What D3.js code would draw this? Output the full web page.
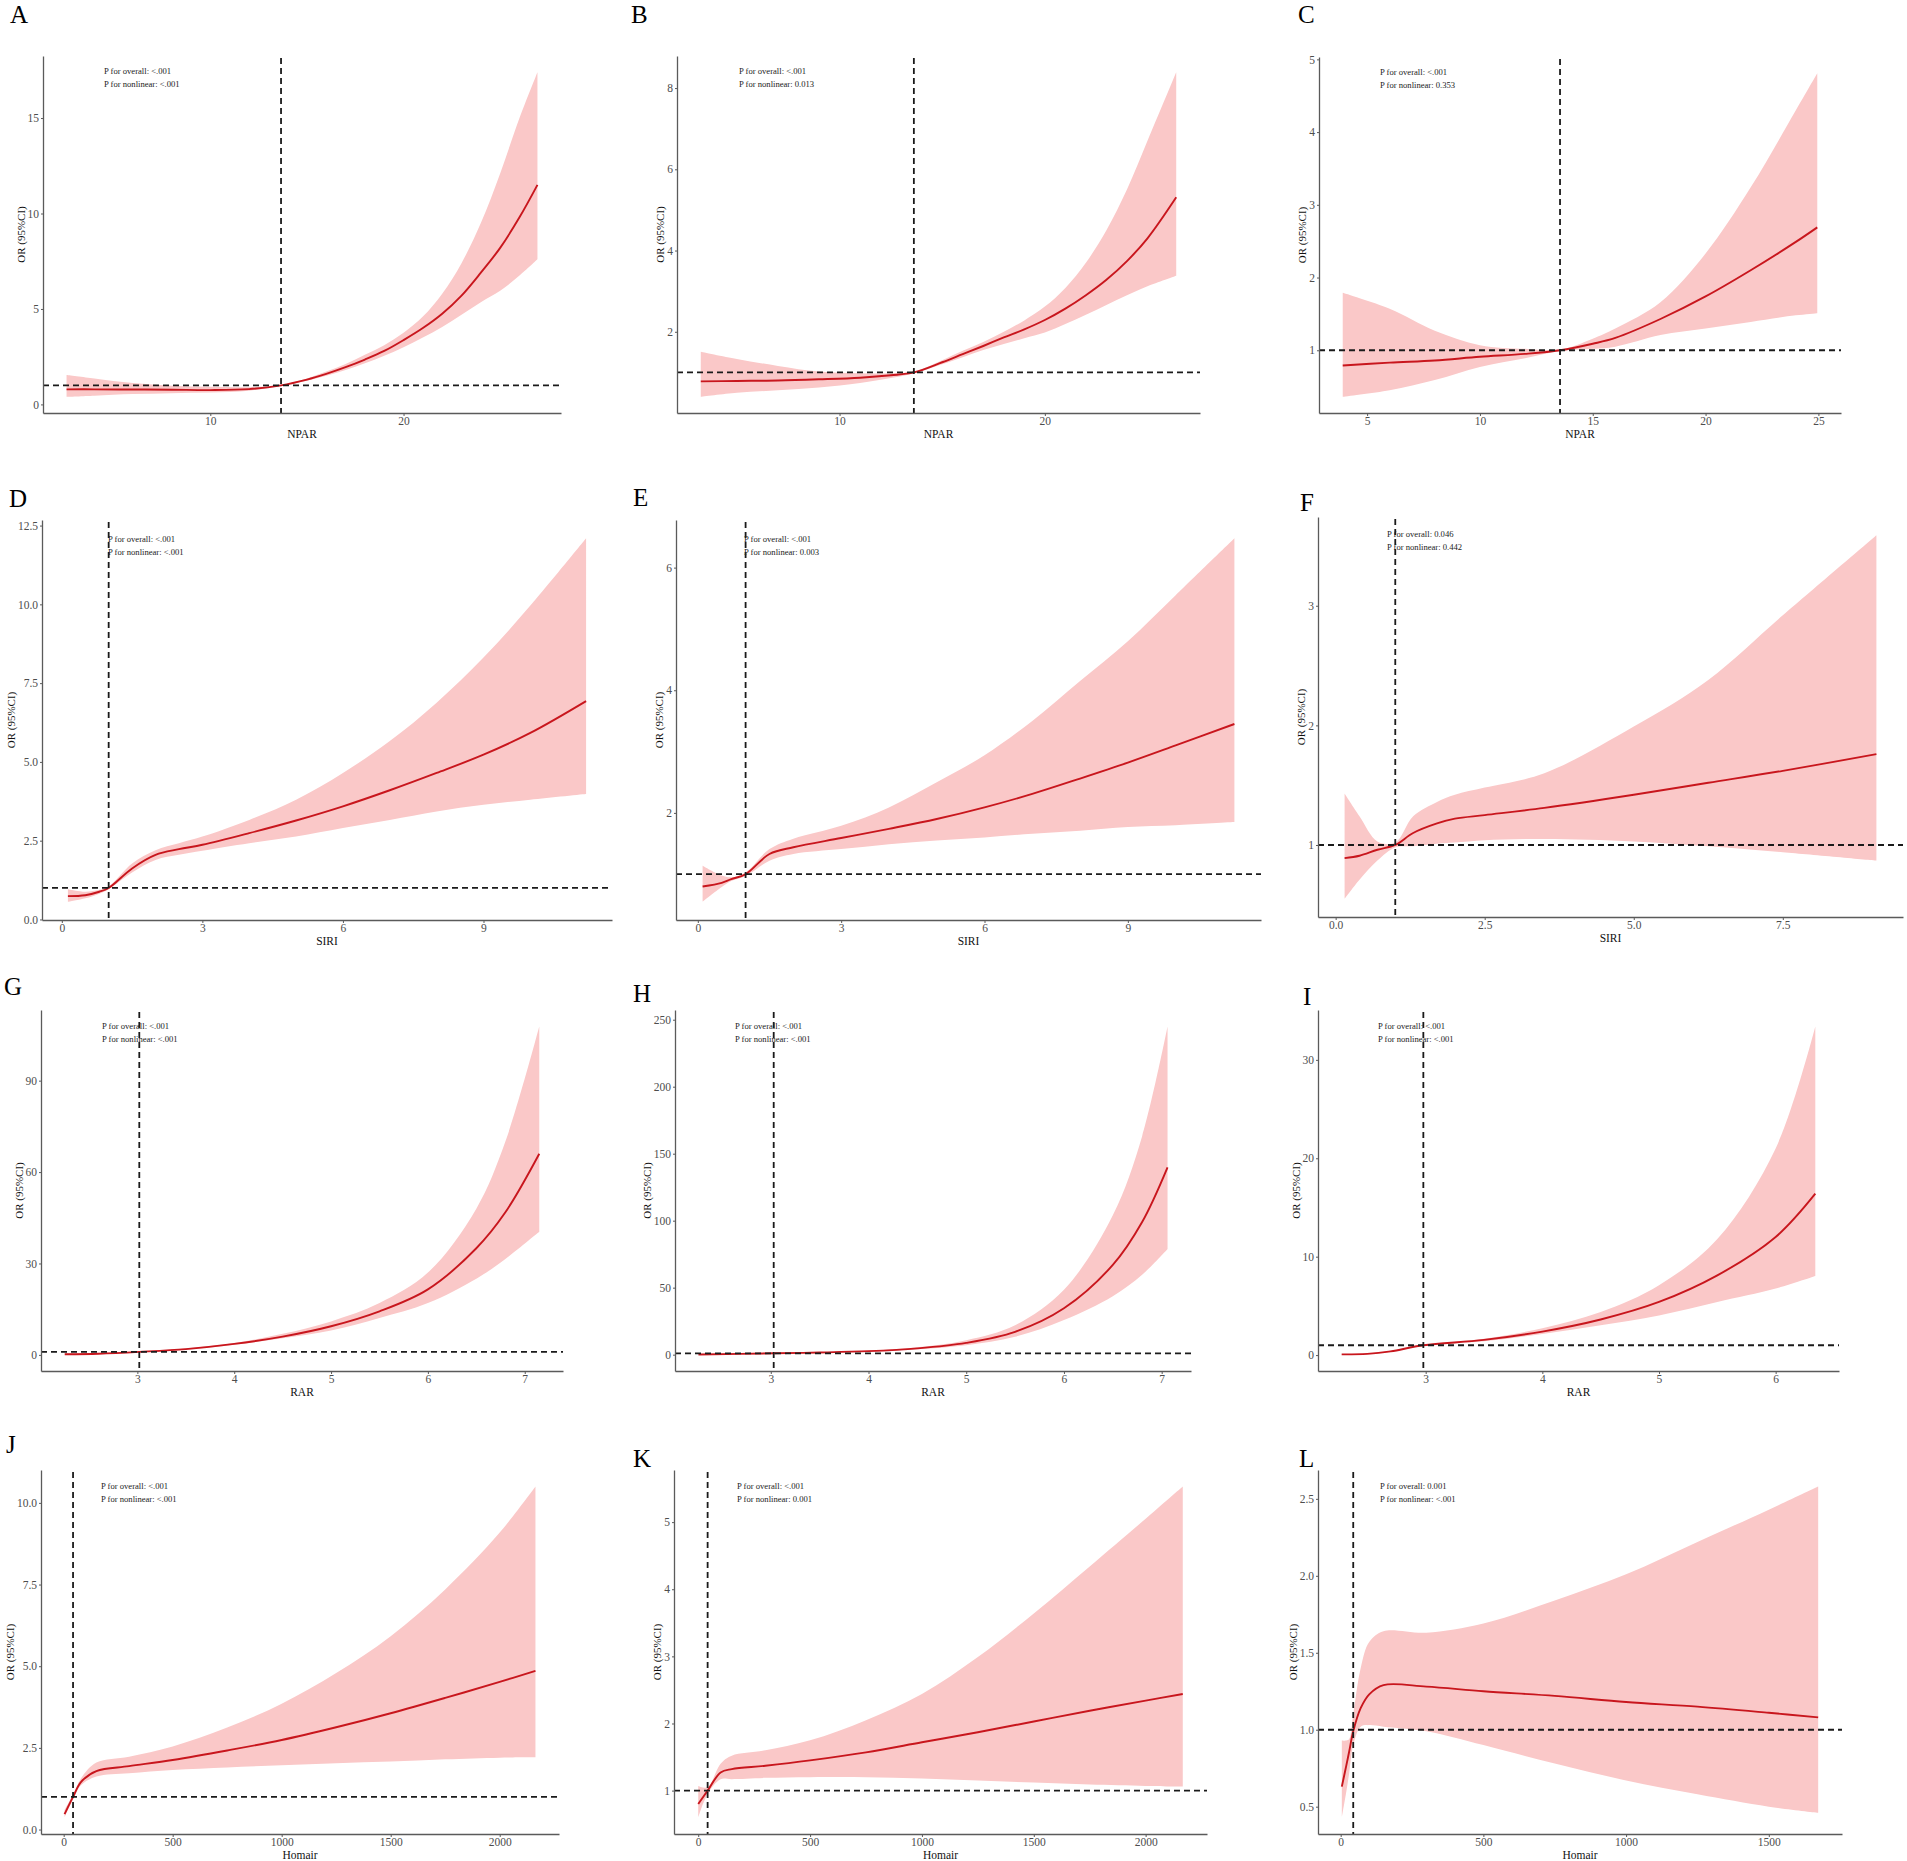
<!DOCTYPE html>
<html>
<head>
<meta charset="utf-8">
<script src="https://cdn.jsdelivr.net/npm/d3@7"></script>
<style>
  body { margin: 0; background: #fff; }
  svg { display: block; }
</style>
</head>
<body>
<div id="chart"></div>
<script>
// ---- data: x, OR estimate, lower and upper 95% CI ----

// A - NPAR
const xA  = [2.56, 4, 6, 8, 10, 12, 13.66, 15, 16, 17, 18, 19, 20, 21, 22, 23, 24, 25, 26, 26.93];
const orA = [0.79, 0.79, 0.78, 0.77, 0.75, 0.80, 1.0, 1.30, 1.60, 1.95, 2.35, 2.80, 3.37, 4.00, 4.75, 5.70, 6.90, 8.20, 9.80, 11.5];
const loA = [0.40, 0.46, 0.54, 0.59, 0.62, 0.72, 0.98, 1.24, 1.50, 1.80, 2.15, 2.55, 3.00, 3.50, 4.05, 4.70, 5.35, 5.95, 6.75, 7.6];
const hiA = [1.54, 1.36, 1.12, 0.98, 0.92, 0.90, 1.02, 1.36, 1.72, 2.12, 2.60, 3.10, 3.75, 4.60, 5.80, 7.40, 9.50, 12.1, 15.0, 17.4];

// B - NPAR
const xB  = [3.24, 5, 7, 9, 11, 12.5, 13.62, 15, 16, 17, 18, 19, 20, 21, 22, 23, 24, 25, 26.4];
const orB = [0.78, 0.79, 0.80, 0.83, 0.87, 0.93, 1.0, 1.25, 1.45, 1.65, 1.86, 2.06, 2.29, 2.57, 2.90, 3.28, 3.74, 4.30, 5.31];
const loB = [0.40, 0.50, 0.56, 0.63, 0.74, 0.86, 0.98, 1.20, 1.37, 1.55, 1.70, 1.84, 1.98, 2.19, 2.42, 2.66, 2.90, 3.12, 3.38];
const hiB = [1.51, 1.33, 1.16, 1.02, 0.98, 0.98, 1.02, 1.30, 1.53, 1.75, 2.00, 2.28, 2.62, 3.08, 3.70, 4.50, 5.50, 6.70, 8.39];

// C - NPAR
const xC  = [3.92, 6, 8, 10, 12, 13.55, 15, 16, 18, 20, 22, 24, 24.95];
const orC = [0.79, 0.83, 0.86, 0.91, 0.95, 1.0, 1.09, 1.17, 1.43, 1.74, 2.10, 2.49, 2.69];
const loC = [0.36, 0.45, 0.59, 0.77, 0.89, 0.99, 1.02, 1.05, 1.21, 1.30, 1.39, 1.48, 1.51];
const hiC = [1.79, 1.57, 1.27, 1.07, 1.02, 1.01, 1.16, 1.30, 1.66, 2.33, 3.24, 4.30, 4.81];

// D - SIRI
const xD  = [0.13, 0.5, 0.8, 1.0, 1.5, 2.0, 2.5, 3, 4, 5, 6, 7, 8, 9, 10, 11.19];
const orD = [0.74, 0.77, 0.88, 1.0, 1.62, 2.05, 2.23, 2.37, 2.74, 3.14, 3.59, 4.10, 4.65, 5.23, 5.92, 6.93];
const loD = [0.56, 0.67, 0.82, 0.96, 1.49, 1.89, 2.05, 2.18, 2.42, 2.63, 2.90, 3.16, 3.43, 3.64, 3.80, 3.98];
const hiD = [0.96, 0.88, 0.94, 1.05, 1.78, 2.20, 2.42, 2.63, 3.16, 3.80, 4.65, 5.66, 6.88, 8.31, 9.96, 12.1];

// E - SIRI
const xE  = [0.1, 0.5, 0.7, 1.0, 1.5, 2, 3, 4, 5, 6, 7, 8, 9, 10, 11.23];
const orE = [0.80, 0.86, 0.92, 1.0, 1.33, 1.44, 1.59, 1.74, 1.90, 2.09, 2.31, 2.56, 2.82, 3.10, 3.45];
const loE = [0.55, 0.79, 0.89, 0.97, 1.22, 1.33, 1.41, 1.49, 1.55, 1.60, 1.66, 1.71, 1.77, 1.80, 1.85];
const hiE = [1.14, 0.98, 0.95, 1.03, 1.41, 1.58, 1.79, 2.09, 2.50, 2.94, 3.50, 4.15, 4.80, 5.55, 6.48];

// F - SIRI
const xF  = [0.15, 0.4, 0.7, 1.0, 1.3, 1.7, 2.0, 2.5, 3.5, 5.0, 6.25, 7.5, 9.07];
const orF = [0.89, 0.91, 0.96, 1.0, 1.10, 1.18, 1.22, 1.25, 1.31, 1.42, 1.52, 1.62, 1.76];
const loF = [0.55, 0.71, 0.87, 0.98, 0.99, 1.01, 1.02, 1.04, 1.05, 1.03, 0.99, 0.94, 0.87];
const hiF = [1.43, 1.24, 1.03, 1.02, 1.24, 1.36, 1.42, 1.48, 1.60, 1.99, 2.38, 2.92, 3.59];

// G - RAR
const xG  = [2.25, 2.6, 3.02, 3.5, 4, 4.5, 5, 5.5, 6, 6.5, 6.8, 7.15];
const orG = [0.2, 0.4, 1.0, 1.9, 3.6, 6.0, 9.4, 14.3, 21.5, 35.0, 46.8, 66.0];
const loG = [0.1, 0.3, 0.9, 1.7, 3.3, 5.5, 8.0, 12.1, 17.0, 25.0, 31.5, 40.4];
const hiG = [0.4, 0.6, 1.1, 2.1, 3.9, 6.9, 11.0, 17.0, 27.0, 48.0, 70.0, 107.8];

// H - RAR
const xH  = [2.26, 3.03, 3.5, 4, 4.5, 5, 5.5, 6, 6.5, 6.8, 7.06];
const orH = [0.1, 1.0, 1.6, 2.6, 4.7, 8.8, 17, 34.6, 67, 99, 139.8];
const loH = [0.05, 0.9, 1.4, 2.3, 4.0, 7.0, 13.3, 25.8, 43.6, 59.6, 78.9];
const hiH = [0.2, 1.1, 1.8, 2.9, 5.5, 10.8, 22, 48.4, 104, 163, 245];

// I - RAR
const xI  = [2.28, 2.5, 2.7, 2.98, 3.5, 4, 4.5, 5, 5.5, 6, 6.34];
const orI = [0.07, 0.12, 0.38, 1.0, 1.54, 2.39, 3.62, 5.4, 8.1, 12.0, 16.4];
const loI = [0.05, 0.10, 0.33, 0.95, 1.40, 2.15, 3.04, 4.03, 5.4, 6.76, 8.03];
const hiI = [0.10, 0.15, 0.43, 1.05, 1.67, 2.73, 4.37, 7.1, 11.8, 21.0, 33.4];

// J - Homair
const xJ  = [4, 43, 80, 150, 300, 500, 750, 1000, 1250, 1500, 1750, 2000, 2164];
const orJ = [0.47, 1.0, 1.46, 1.79, 1.94, 2.13, 2.42, 2.74, 3.13, 3.56, 4.03, 4.52, 4.86];
const loJ = [0.37, 0.93, 1.36, 1.62, 1.72, 1.82, 1.90, 1.97, 2.03, 2.08, 2.15, 2.20, 2.21];
const hiJ = [0.60, 1.07, 1.57, 2.05, 2.23, 2.54, 3.12, 3.85, 4.79, 5.92, 7.35, 9.09, 10.5];

// K - Homair
const xK  = [0, 42, 100, 150, 300, 500, 750, 1000, 1250, 1500, 1750, 2000, 2166];
const orK = [0.80, 1.0, 1.27, 1.32, 1.37, 1.45, 1.57, 1.72, 1.87, 2.03, 2.19, 2.34, 2.44];
const loK = [0.60, 0.95, 1.17, 1.17, 1.19, 1.20, 1.20, 1.18, 1.15, 1.12, 1.09, 1.07, 1.06];
const hiK = [1.07, 1.05, 1.40, 1.52, 1.60, 1.75, 2.05, 2.44, 2.99, 3.64, 4.34, 5.05, 5.53];

// L - Homair
const xL  = [4, 20, 30, 44, 70, 100, 150, 300, 500, 750, 1000, 1250, 1500, 1673];
const orL = [0.63, 0.77, 0.86, 0.99, 1.14, 1.23, 1.29, 1.28, 1.25, 1.22, 1.18, 1.15, 1.11, 1.08];
const loL = [0.43, 0.60, 0.72, 0.90, 1.02, 1.03, 1.02, 0.99, 0.90, 0.78, 0.67, 0.58, 0.50, 0.46];
const hiL = [0.93, 0.93, 0.94, 1.10, 1.40, 1.57, 1.64, 1.63, 1.69, 1.84, 2.01, 2.22, 2.43, 2.58];

// reference (vertical dashed) values
const refX = [13.66, 13.62, 13.55, 1.0, 1.0, 1.0, 3.02, 3.03, 2.98, 43, 42, 44];
const refY = 1;

const letters = ["A", "B", "C", "D", "E", "F", "G", "H", "I", "J", "K", "L"];
const xTitles = ["NPAR", "NPAR", "NPAR", "SIRI", "SIRI", "SIRI", "RAR", "RAR", "RAR", "Homair", "Homair", "Homair"];
const pOverall   = ["<.001", "<.001", "<.001", "<.001", "<.001", "0.046", "<.001", "<.001", "<.001", "<.001", "<.001", "0.001"];
const pNonlinear = ["<.001", "0.013", "0.353", "<.001", "0.003", "0.442", "<.001", "<.001", "<.001", "<.001", "0.001", "<.001"];

// tick labels
const xTickLabels = [
  ["10", "20"], ["10", "20"], ["5", "10", "15", "20", "25"],
  ["0", "3", "6", "9"], ["0", "3", "6", "9"], ["0.0", "2.5", "5.0", "7.5"],
  ["3", "4", "5", "6", "7"], ["3", "4", "5", "6", "7"], ["3", "4", "5", "6"],
  ["0", "500", "1000", "1500", "2000"], ["0", "500", "1000", "1500", "2000"], ["0", "500", "1000", "1500"]
];
const yTickLabels = [
  ["0", "5", "10", "15"], ["2", "4", "6", "8"], ["1", "2", "3", "4", "5"],
  ["0.0", "2.5", "5.0", "7.5", "10.0", "12.5"], ["2", "4", "6"], ["1", "2", "3"],
  ["0", "30", "60", "90"], ["0", "50", "100", "150", "200", "250"], ["0", "10", "20", "30"],
  ["0.0", "2.5", "5.0", "7.5", "10.0"], ["1", "2", "3", "4", "5"], ["0.5", "1.0", "1.5", "2.0", "2.5"]
];

const xs  = [xA, xB, xC, xD, xE, xF, xG, xH, xI, xJ, xK, xL];
const ors = [orA, orB, orC, orD, orE, orF, orG, orH, orI, orJ, orK, orL];
const los = [loA, loB, loC, loD, loE, loF, loG, loH, loI, loJ, loK, loL];
const his = [hiA, hiB, hiC, hiD, hiE, hiF, hiG, hiH, hiI, hiJ, hiK, hiL];

// ---- page layout: plot box per panel, letter position, p-text offset ----
const layout = [
  {L: 43,   R: 561,  T: 56,   B: 413,  lx: 10,   ly: 23,   px: 61, py: 18},
  {L: 677,  R: 1200, T: 56,   B: 413,  lx: 631,  ly: 23,   px: 62, py: 18},
  {L: 1319, R: 1841, T: 57,   B: 413,  lx: 1298, ly: 23,   px: 61, py: 18},
  {L: 42,   R: 612,  T: 520,  B: 920,  lx: 9,    ly: 507,  px: 66, py: 22},
  {L: 676,  R: 1261, T: 520,  B: 920,  lx: 633,  ly: 506,  px: 68, py: 22},
  {L: 1318, R: 1903, T: 517,  B: 917,  lx: 1300, ly: 511,  px: 69, py: 20},
  {L: 41,   R: 563,  T: 1010, B: 1371, lx: 4,    ly: 995,  px: 61, py: 19},
  {L: 675,  R: 1191, T: 1010, B: 1371, lx: 633,  ly: 1002, px: 60, py: 19},
  {L: 1318, R: 1839, T: 1010, B: 1371, lx: 1303, ly: 1005, px: 60, py: 19},
  {L: 41,   R: 559,  T: 1470, B: 1834, lx: 6,    ly: 1453, px: 60, py: 19},
  {L: 674,  R: 1207, T: 1470, B: 1834, lx: 633,  ly: 1467, px: 63, py: 19},
  {L: 1318, R: 1842, T: 1470, B: 1834, lx: 1299, ly: 1467, px: 62, py: 19}
];

const width = 1907, height = 1861;
const serif = "'Liberation Serif', 'Times New Roman', serif";
const ribbonColor = "#FAC8C8";
const lineColor = "#C8161D";
const axisColor = "#5a5a5a";
const smooth = d3.curveCatmullRom.alpha(0.5);

const svg = d3.select("#chart")
  .append("svg")
  .attr("width", width)
  .attr("height", height)
  .style("font-family", serif);

svg.append("rect")
  .attr("width", width)
  .attr("height", height)
  .attr("fill", "white");

// ggplot-style continuous range: data extent with 5% padding each side
function expanded(values) {
  const [lo, hi] = d3.extent(values);
  const pad = (hi - lo) * 0.05;
  return [lo - pad, hi + pad];
}

layout.forEach((box, i) => {
  const rows = xs[i].map((x, j) => ({x: x, or: ors[i][j], lo: los[i][j], hi: his[i][j]}));

  const x = d3.scaleLinear()
    .domain(expanded(xs[i].concat([refX[i]])))
    .range([box.L, box.R]);
  const y = d3.scaleLinear()
    .domain(expanded(los[i].concat(his[i], ors[i], [refY])))
    .range([box.B, box.T]);

  const g = svg.append("g").attr("class", "panel panel-" + letters[i]);

  // confidence band
  g.append("path")
    .datum(rows)
    .attr("fill", ribbonColor)
    .attr("d", d3.area()
      .curve(smooth)
      .x(d => x(d.x))
      .y0(d => y(d.lo))
      .y1(d => y(d.hi)));

  // OR curve
  g.append("path")
    .datum(rows)
    .attr("fill", "none")
    .attr("stroke", lineColor)
    .attr("stroke-width", 1.9)
    .attr("d", d3.line()
      .curve(smooth)
      .x(d => x(d.x))
      .y(d => y(d.or)));

  // reference lines
  g.append("line")
    .attr("x1", box.L).attr("x2", box.R)
    .attr("y1", y(refY)).attr("y2", y(refY))
    .attr("stroke", "#1a1a1a")
    .attr("stroke-width", 1.8)
    .attr("stroke-dasharray", "6,4");

  g.append("line")
    .attr("x1", x(refX[i])).attr("x2", x(refX[i]))
    .attr("y1", box.T + 2).attr("y2", box.B)
    .attr("stroke", "#1a1a1a")
    .attr("stroke-width", 1.8)
    .attr("stroke-dasharray", "6,4");

  // axes
  const xLabels = xTickLabels[i];
  const yLabels = yTickLabels[i];

  const xAxis = d3.axisBottom(x)
    .tickValues(xLabels.map(Number))
    .tickFormat((d, k) => xLabels[k])
    .tickSizeInner(3)
    .tickSizeOuter(0)
    .tickPadding(1);

  const yAxis = d3.axisLeft(y)
    .tickValues(yLabels.map(Number))
    .tickFormat((d, k) => yLabels[k])
    .tickSizeInner(2)
    .tickSizeOuter(0)
    .tickPadding(2);

  const gx = g.append("g")
    .attr("transform", `translate(0,${box.B})`)
    .call(xAxis);
  const gy = g.append("g")
    .attr("transform", `translate(${box.L},0)`)
    .call(yAxis);

  [gx, gy].forEach(a => {
    a.select(".domain").attr("stroke", axisColor).attr("stroke-width", 1.3);
    a.selectAll(".tick line").attr("stroke", axisColor).attr("stroke-width", 1);
    a.selectAll(".tick text")
      .attr("fill", "#4d4d4d")
      .style("font-family", serif)
      .style("font-size", "11.5px");
  });

  // axis titles
  g.append("text")
    .attr("x", (box.L + box.R) / 2)
    .attr("y", box.B + 25)
    .attr("text-anchor", "middle")
    .style("font-size", "11.5px")
    .attr("fill", "#111")
    .text(xTitles[i]);

  let maxW = 0;
  gy.selectAll(".tick text").each(function () {
    maxW = Math.max(maxW, this.getComputedTextLength());
  });
  const ty = (box.T + box.B) / 2;
  const tx = box.L - 4 - maxW - 7;
  g.append("text")
    .attr("transform", `translate(${tx + 4},${ty}) rotate(-90)`)
    .attr("text-anchor", "middle")
    .style("font-size", "11px")
    .attr("fill", "#111")
    .text("OR (95%CI)");

  // p-values
  g.append("text")
    .attr("x", box.L + box.px)
    .attr("y", box.T + box.py)
    .style("font-size", "8.6px")
    .attr("fill", "#222")
    .text("P for overall: " + pOverall[i]);
  g.append("text")
    .attr("x", box.L + box.px)
    .attr("y", box.T + box.py + 12.7)
    .style("font-size", "8.6px")
    .attr("fill", "#222")
    .text("P for nonlinear: " + pNonlinear[i]);

  // panel letter
  svg.append("text")
    .attr("x", box.lx)
    .attr("y", box.ly)
    .style("font-size", "25px")
    .attr("fill", "#000")
    .text(letters[i]);
});
</script>
</body>
</html>
